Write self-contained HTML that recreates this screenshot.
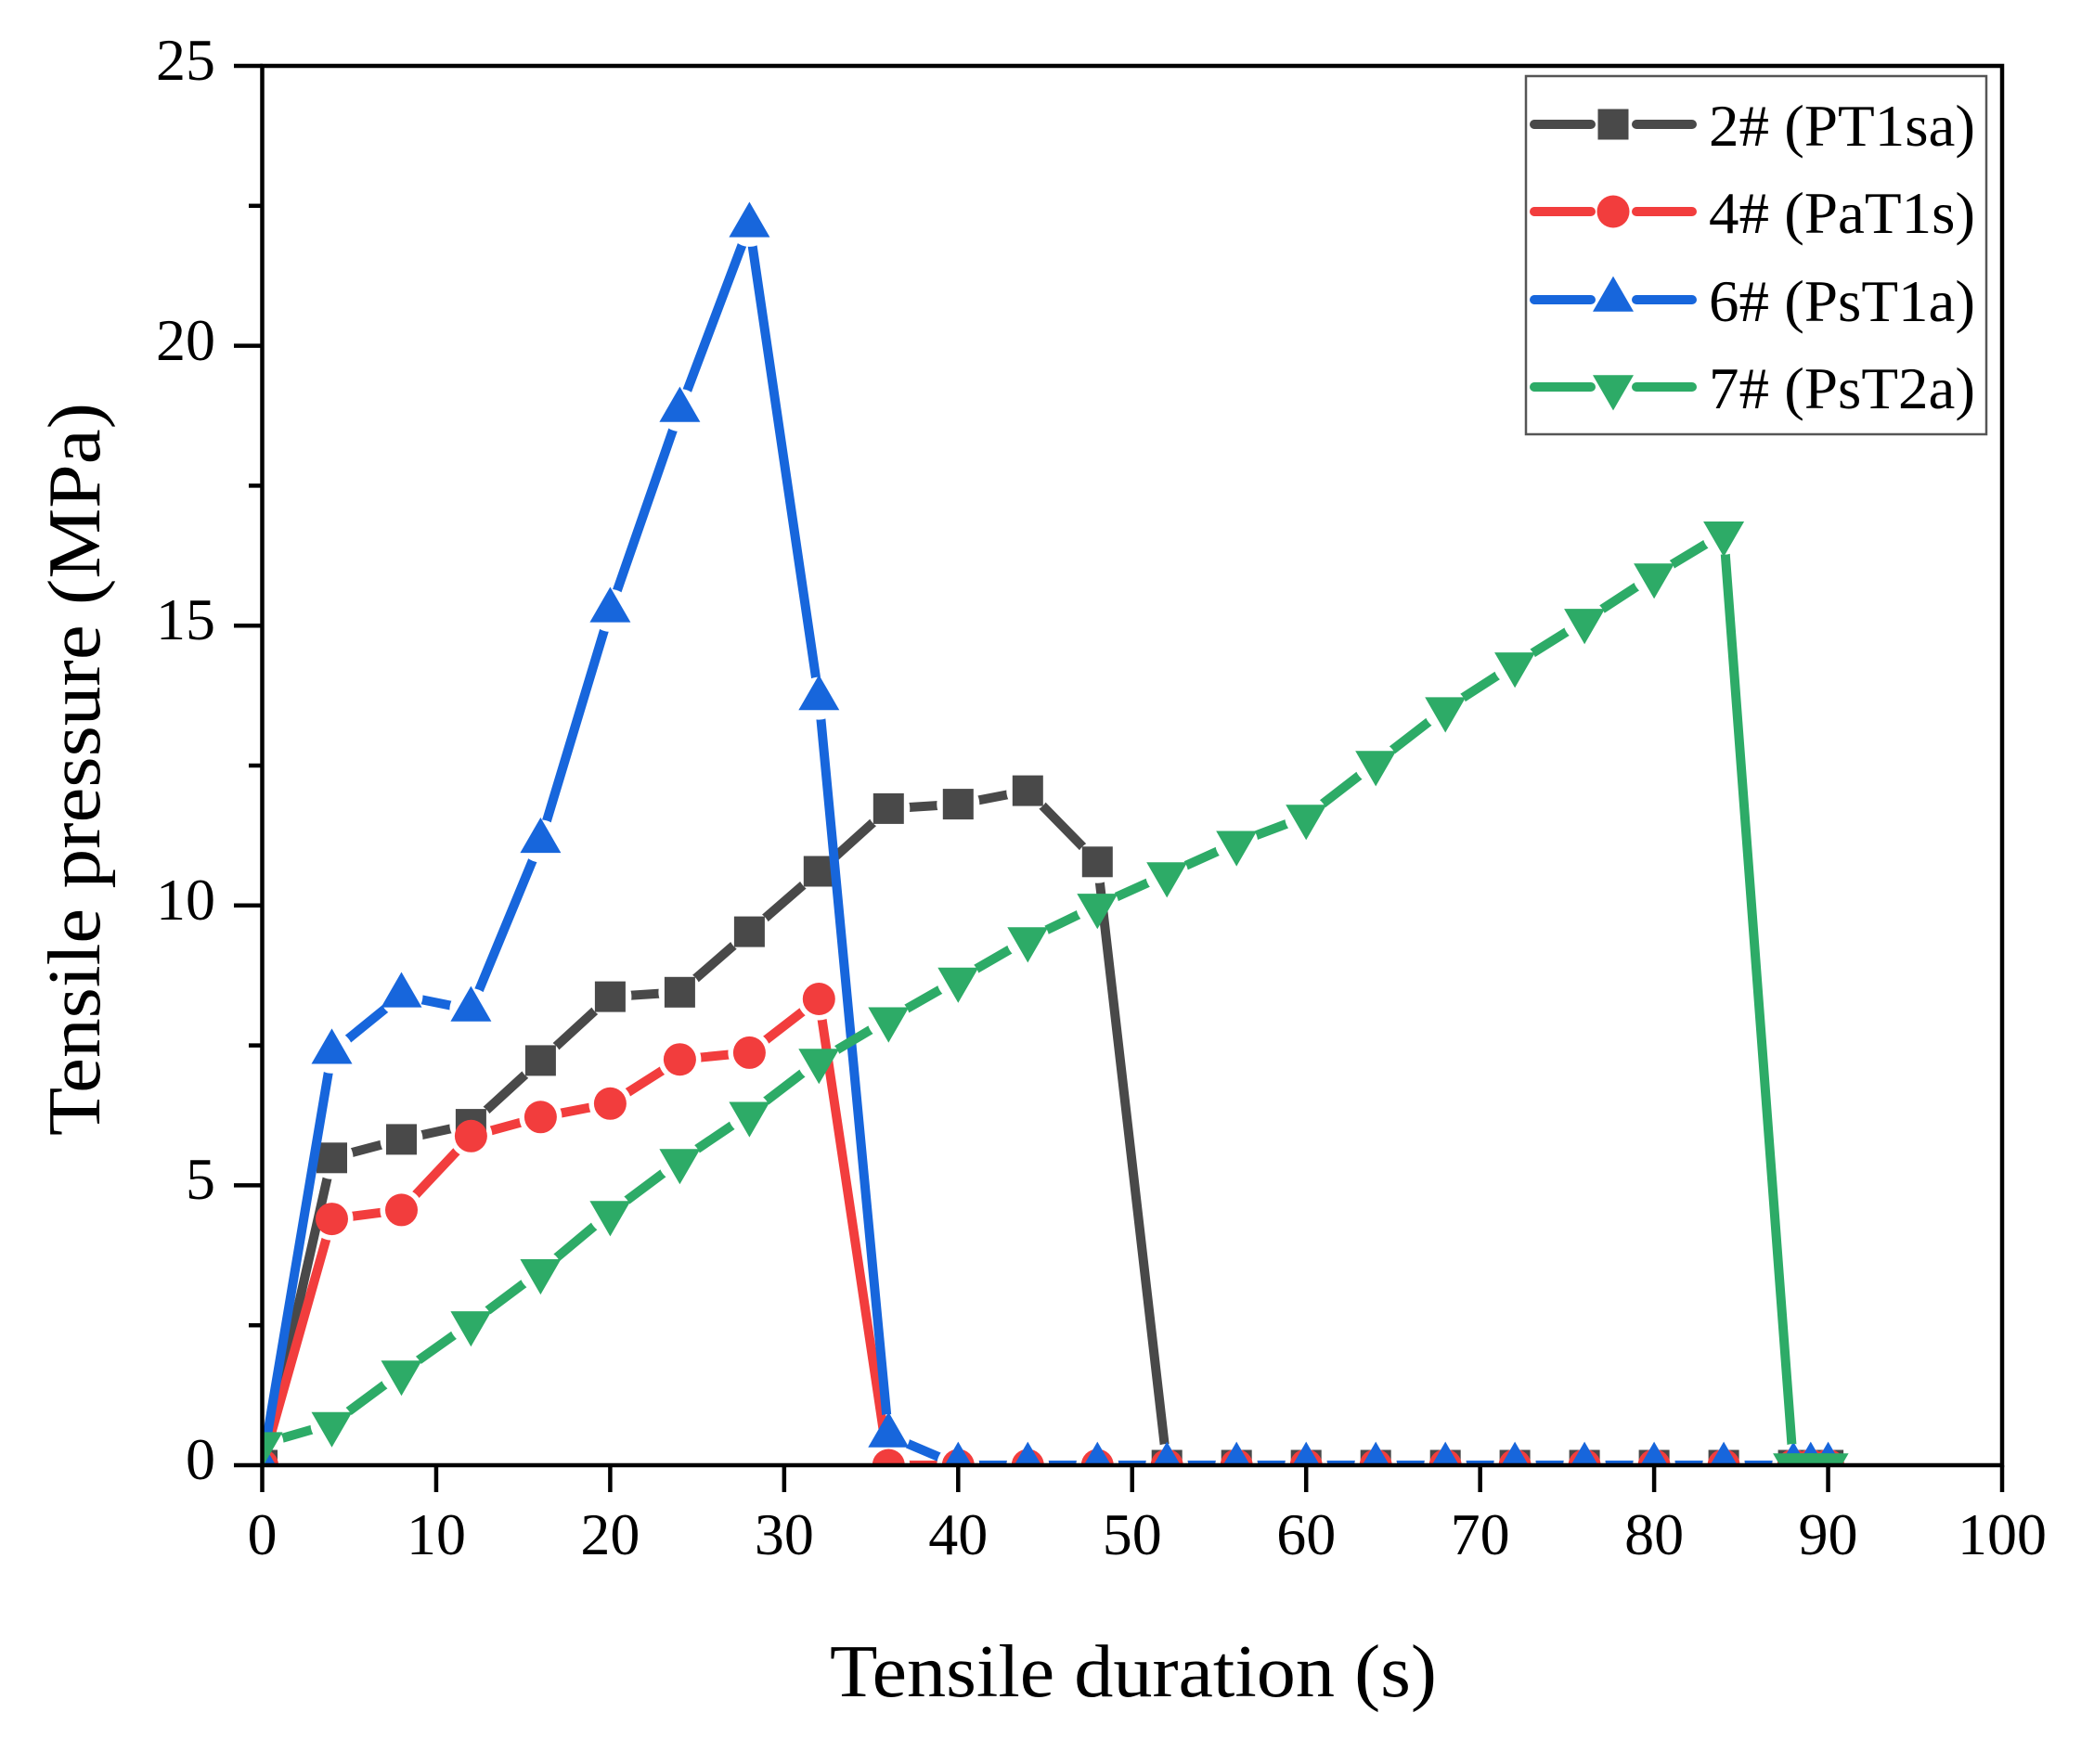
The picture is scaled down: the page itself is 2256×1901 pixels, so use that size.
<!DOCTYPE html>
<html>
<head>
<meta charset="utf-8">
<style>
html,body{margin:0;padding:0;background:#fff;}
svg{display:block;}
text{font-family:"Liberation Serif",serif;fill:#000;}
</style>
</head>
<body>
<svg width="2256" height="1901" viewBox="0 0 2256 1901" xmlns="http://www.w3.org/2000/svg">
<defs>
  <clipPath id="plot"><rect x="282.5" y="71" width="1874.5" height="1508"/></clipPath>
  <circle id="h" r="23" fill="#000"/>
  <rect id="sq" x="-16.5" y="-16.5" width="33" height="33"/>
  <circle id="ci" r="17.5"/>
  <polygon id="tu" points="0,-25.4 22,12.7 -22,12.7"/>
  <polygon id="td" points="0,25.4 22,-12.7 -22,-12.7"/>
  <mask id="mg" maskUnits="userSpaceOnUse" x="0" y="0" width="2256" height="1901">
    <rect x="0" y="0" width="2256" height="1901" fill="#fff"/>
    <use href="#h" x="282.5" y="1579"/><use href="#h" x="357.5" y="1247.8"/><use href="#h" x="432.5" y="1227.9"/><use href="#h" x="507.4" y="1211.6"/><use href="#h" x="582.4" y="1142.9"/><use href="#h" x="657.4" y="1074.1"/><use href="#h" x="732.4" y="1069.3"/><use href="#h" x="807.4" y="1004.1"/><use href="#h" x="882.3" y="939"/><use href="#h" x="957.3" y="871.4"/><use href="#h" x="1032.3" y="866.6"/><use href="#h" x="1107.3" y="852.1"/><use href="#h" x="1182.3" y="928.8"/><use href="#h" x="1257.2" y="1579"/><use href="#h" x="1332.2" y="1579"/><use href="#h" x="1407.2" y="1579"/><use href="#h" x="1482.2" y="1579"/><use href="#h" x="1557.2" y="1579"/><use href="#h" x="1632.1" y="1579"/><use href="#h" x="1707.1" y="1579"/><use href="#h" x="1782.1" y="1579"/><use href="#h" x="1857.1" y="1579"/><use href="#h" x="1932.1" y="1579"/><use href="#h" x="1950.8" y="1579"/><use href="#h" x="1969.6" y="1579"/>
  </mask>
  <mask id="mr" maskUnits="userSpaceOnUse" x="0" y="0" width="2256" height="1901">
    <rect x="0" y="0" width="2256" height="1901" fill="#fff"/>
    <use href="#h" x="282.5" y="1579"/><use href="#h" x="357.5" y="1313.6"/><use href="#h" x="432.5" y="1303.9"/><use href="#h" x="507.4" y="1224.3"/><use href="#h" x="582.4" y="1203.8"/><use href="#h" x="657.4" y="1189.3"/><use href="#h" x="732.4" y="1141.7"/><use href="#h" x="807.4" y="1134.4"/><use href="#h" x="882.3" y="1076.5"/><use href="#h" x="957.3" y="1579"/><use href="#h" x="1032.3" y="1579"/><use href="#h" x="1107.3" y="1579"/><use href="#h" x="1182.3" y="1579"/><use href="#h" x="1257.2" y="1579"/><use href="#h" x="1332.2" y="1579"/><use href="#h" x="1407.2" y="1579"/><use href="#h" x="1482.2" y="1579"/><use href="#h" x="1557.2" y="1579"/><use href="#h" x="1632.1" y="1579"/><use href="#h" x="1707.1" y="1579"/><use href="#h" x="1782.1" y="1579"/><use href="#h" x="1857.1" y="1579"/><use href="#h" x="1932.1" y="1579"/><use href="#h" x="1950.8" y="1579"/><use href="#h" x="1969.6" y="1579"/>
  </mask>
  <mask id="mb" maskUnits="userSpaceOnUse" x="0" y="0" width="2256" height="1901">
    <rect x="0" y="0" width="2256" height="1901" fill="#fff"/>
    <use href="#h" x="282.5" y="1579"/><use href="#h" x="357.5" y="1133.8"/><use href="#h" x="432.5" y="1072.9"/><use href="#h" x="507.4" y="1088"/><use href="#h" x="582.4" y="906.4"/><use href="#h" x="657.4" y="657.9"/><use href="#h" x="732.4" y="442"/><use href="#h" x="807.4" y="242.9"/><use href="#h" x="882.3" y="752.6"/><use href="#h" x="957.3" y="1547"/><use href="#h" x="1032.3" y="1579"/><use href="#h" x="1107.3" y="1579"/><use href="#h" x="1182.3" y="1579"/><use href="#h" x="1257.2" y="1579"/><use href="#h" x="1332.2" y="1579"/><use href="#h" x="1407.2" y="1579"/><use href="#h" x="1482.2" y="1579"/><use href="#h" x="1557.2" y="1579"/><use href="#h" x="1632.1" y="1579"/><use href="#h" x="1707.1" y="1579"/><use href="#h" x="1782.1" y="1579"/><use href="#h" x="1857.1" y="1579"/><use href="#h" x="1932.1" y="1579"/><use href="#h" x="1950.8" y="1579"/><use href="#h" x="1969.6" y="1579"/>
  </mask>
  <mask id="mgr" maskUnits="userSpaceOnUse" x="0" y="0" width="2256" height="1901">
    <rect x="0" y="0" width="2256" height="1901" fill="#fff"/>
    <use href="#h" x="282.5" y="1556.1"/><use href="#h" x="357.5" y="1534.4"/><use href="#h" x="432.5" y="1478.9"/><use href="#h" x="507.4" y="1425.8"/><use href="#h" x="582.4" y="1369.7"/><use href="#h" x="657.4" y="1307"/><use href="#h" x="732.4" y="1250.9"/><use href="#h" x="807.4" y="1200.2"/><use href="#h" x="882.3" y="1142.9"/><use href="#h" x="957.3" y="1098.2"/><use href="#h" x="1032.3" y="1055.4"/><use href="#h" x="1107.3" y="1012"/><use href="#h" x="1182.3" y="975.8"/><use href="#h" x="1257.2" y="942"/><use href="#h" x="1332.2" y="908.2"/><use href="#h" x="1407.2" y="879.9"/><use href="#h" x="1482.2" y="822"/><use href="#h" x="1557.2" y="764.1"/><use href="#h" x="1632.1" y="715.8"/><use href="#h" x="1707.1" y="668.8"/><use href="#h" x="1782.1" y="619.9"/><use href="#h" x="1857.1" y="574.7"/><use href="#h" x="1932.1" y="1579"/><use href="#h" x="1950.8" y="1579"/><use href="#h" x="1969.6" y="1579"/>
  </mask>
</defs>

<rect x="0" y="0" width="2256" height="1901" fill="#fff"/>

<g clip-path="url(#plot)">
  <!-- Gray 2# -->
  <g mask="url(#mg)">
    <polyline fill="none" stroke="#494949" stroke-width="10" stroke-linejoin="round" stroke-linecap="round"
      points="282.5,1579 357.5,1247.8 432.5,1227.9 507.4,1211.6 582.4,1142.9 657.4,1074.1 732.4,1069.3 807.4,1004.1 882.3,939 957.3,871.4 1032.3,866.6 1107.3,852.1 1182.3,928.8 1257.2,1579 1332.2,1579 1407.2,1579 1482.2,1579 1557.2,1579 1632.1,1579 1707.1,1579 1782.1,1579 1857.1,1579 1932.1,1579 1950.8,1579 1969.6,1579"/>
  </g>
  <g fill="#494949">
    <use href="#sq" x="282.5" y="1579"/><use href="#sq" x="357.5" y="1247.8"/><use href="#sq" x="432.5" y="1227.9"/><use href="#sq" x="507.4" y="1211.6"/><use href="#sq" x="582.4" y="1142.9"/><use href="#sq" x="657.4" y="1074.1"/><use href="#sq" x="732.4" y="1069.3"/><use href="#sq" x="807.4" y="1004.1"/><use href="#sq" x="882.3" y="939"/><use href="#sq" x="957.3" y="871.4"/><use href="#sq" x="1032.3" y="866.6"/><use href="#sq" x="1107.3" y="852.1"/><use href="#sq" x="1182.3" y="928.8"/><use href="#sq" x="1257.2" y="1579"/><use href="#sq" x="1332.2" y="1579"/><use href="#sq" x="1407.2" y="1579"/><use href="#sq" x="1482.2" y="1579"/><use href="#sq" x="1557.2" y="1579"/><use href="#sq" x="1632.1" y="1579"/><use href="#sq" x="1707.1" y="1579"/><use href="#sq" x="1782.1" y="1579"/><use href="#sq" x="1857.1" y="1579"/><use href="#sq" x="1932.1" y="1579"/><use href="#sq" x="1950.8" y="1579"/><use href="#sq" x="1969.6" y="1579"/>
  </g>

  <!-- Red 4# -->
  <g mask="url(#mr)">
    <polyline fill="none" stroke="#f23d3d" stroke-width="10" stroke-linejoin="round" stroke-linecap="round"
      points="282.5,1579 357.5,1313.6 432.5,1303.9 507.4,1224.3 582.4,1203.8 657.4,1189.3 732.4,1141.7 807.4,1134.4 882.3,1076.5 957.3,1579 1032.3,1579 1107.3,1579 1182.3,1579 1257.2,1579 1332.2,1579 1407.2,1579 1482.2,1579 1557.2,1579 1632.1,1579 1707.1,1579 1782.1,1579 1857.1,1579 1932.1,1579 1950.8,1579 1969.6,1579"/>
  </g>
  <g fill="#f23d3d">
    <use href="#ci" x="282.5" y="1579"/><use href="#ci" x="357.5" y="1313.6"/><use href="#ci" x="432.5" y="1303.9"/><use href="#ci" x="507.4" y="1224.3"/><use href="#ci" x="582.4" y="1203.8"/><use href="#ci" x="657.4" y="1189.3"/><use href="#ci" x="732.4" y="1141.7"/><use href="#ci" x="807.4" y="1134.4"/><use href="#ci" x="882.3" y="1076.5"/><use href="#ci" x="957.3" y="1579"/><use href="#ci" x="1032.3" y="1579"/><use href="#ci" x="1107.3" y="1579"/><use href="#ci" x="1182.3" y="1579"/><use href="#ci" x="1257.2" y="1579"/><use href="#ci" x="1332.2" y="1579"/><use href="#ci" x="1407.2" y="1579"/><use href="#ci" x="1482.2" y="1579"/><use href="#ci" x="1557.2" y="1579"/><use href="#ci" x="1632.1" y="1579"/><use href="#ci" x="1707.1" y="1579"/><use href="#ci" x="1782.1" y="1579"/><use href="#ci" x="1857.1" y="1579"/><use href="#ci" x="1932.1" y="1579"/><use href="#ci" x="1950.8" y="1579"/><use href="#ci" x="1969.6" y="1579"/>
  </g>

  <!-- Blue 6# -->
  <g mask="url(#mb)">
    <polyline fill="none" stroke="#1766dc" stroke-width="10" stroke-linejoin="round" stroke-linecap="round"
      points="282.5,1579 357.5,1133.8 432.5,1072.9 507.4,1088 582.4,906.4 657.4,657.9 732.4,442 807.4,242.9 882.3,752.6 957.3,1547 1032.3,1579 1107.3,1579 1182.3,1579 1257.2,1579 1332.2,1579 1407.2,1579 1482.2,1579 1557.2,1579 1632.1,1579 1707.1,1579 1782.1,1579 1857.1,1579 1932.1,1579 1950.8,1579 1969.6,1579"/>
  </g>
  <g fill="#1766dc">
    <use href="#tu" x="282.5" y="1579"/><use href="#tu" x="357.5" y="1133.8"/><use href="#tu" x="432.5" y="1072.9"/><use href="#tu" x="507.4" y="1088"/><use href="#tu" x="582.4" y="906.4"/><use href="#tu" x="657.4" y="657.9"/><use href="#tu" x="732.4" y="442"/><use href="#tu" x="807.4" y="242.9"/><use href="#tu" x="882.3" y="752.6"/><use href="#tu" x="957.3" y="1547"/><use href="#tu" x="1032.3" y="1579"/><use href="#tu" x="1107.3" y="1579"/><use href="#tu" x="1182.3" y="1579"/><use href="#tu" x="1257.2" y="1579"/><use href="#tu" x="1332.2" y="1579"/><use href="#tu" x="1407.2" y="1579"/><use href="#tu" x="1482.2" y="1579"/><use href="#tu" x="1557.2" y="1579"/><use href="#tu" x="1632.1" y="1579"/><use href="#tu" x="1707.1" y="1579"/><use href="#tu" x="1782.1" y="1579"/><use href="#tu" x="1857.1" y="1579"/><use href="#tu" x="1932.1" y="1579"/><use href="#tu" x="1950.8" y="1579"/><use href="#tu" x="1969.6" y="1579"/>
  </g>

  <!-- Green 7# -->
  <g mask="url(#mgr)">
    <polyline fill="none" stroke="#2dab67" stroke-width="10" stroke-linejoin="round" stroke-linecap="round"
      points="282.5,1556.1 357.5,1534.4 432.5,1478.9 507.4,1425.8 582.4,1369.7 657.4,1307 732.4,1250.9 807.4,1200.2 882.3,1142.9 957.3,1098.2 1032.3,1055.4 1107.3,1012 1182.3,975.8 1257.2,942 1332.2,908.2 1407.2,879.9 1482.2,822 1557.2,764.1 1632.1,715.8 1707.1,668.8 1782.1,619.9 1857.1,574.7 1932.1,1579 1950.8,1579 1969.6,1579"/>
  </g>
  <g fill="#2dab67">
    <use href="#td" x="282.5" y="1556.1"/><use href="#td" x="357.5" y="1534.4"/><use href="#td" x="432.5" y="1478.9"/><use href="#td" x="507.4" y="1425.8"/><use href="#td" x="582.4" y="1369.7"/><use href="#td" x="657.4" y="1307"/><use href="#td" x="732.4" y="1250.9"/><use href="#td" x="807.4" y="1200.2"/><use href="#td" x="882.3" y="1142.9"/><use href="#td" x="957.3" y="1098.2"/><use href="#td" x="1032.3" y="1055.4"/><use href="#td" x="1107.3" y="1012"/><use href="#td" x="1182.3" y="975.8"/><use href="#td" x="1257.2" y="942"/><use href="#td" x="1332.2" y="908.2"/><use href="#td" x="1407.2" y="879.9"/><use href="#td" x="1482.2" y="822"/><use href="#td" x="1557.2" y="764.1"/><use href="#td" x="1632.1" y="715.8"/><use href="#td" x="1707.1" y="668.8"/><use href="#td" x="1782.1" y="619.9"/><use href="#td" x="1857.1" y="574.7"/><use href="#td" x="1932.1" y="1579"/><use href="#td" x="1950.8" y="1579"/><use href="#td" x="1969.6" y="1579"/>
  </g>
</g>

<!-- Axes frame -->
<rect x="282.5" y="71" width="1874.5" height="1508" fill="none" stroke="#000" stroke-width="4.5"/>

<!-- Y ticks -->
<g stroke="#000" stroke-width="4.5">
  <line x1="252" y1="1579" x2="283" y2="1579"/>
  <line x1="252" y1="1277.4" x2="283" y2="1277.4"/>
  <line x1="252" y1="975.8" x2="283" y2="975.8"/>
  <line x1="252" y1="674.2" x2="283" y2="674.2"/>
  <line x1="252" y1="372.6" x2="283" y2="372.6"/>
  <line x1="252" y1="71" x2="283" y2="71"/>
  <line x1="268" y1="1428.2" x2="283" y2="1428.2"/>
  <line x1="268" y1="1126.6" x2="283" y2="1126.6"/>
  <line x1="268" y1="825" x2="283" y2="825"/>
  <line x1="268" y1="523.4" x2="283" y2="523.4"/>
  <line x1="268" y1="221.8" x2="283" y2="221.8"/>
</g>
<!-- X ticks -->
<g stroke="#000" stroke-width="4.5">
  <line x1="282.5" y1="1579" x2="282.5" y2="1608"/>
  <line x1="469.95" y1="1579" x2="469.95" y2="1608"/>
  <line x1="657.4" y1="1579" x2="657.4" y2="1608"/>
  <line x1="844.85" y1="1579" x2="844.85" y2="1608"/>
  <line x1="1032.3" y1="1579" x2="1032.3" y2="1608"/>
  <line x1="1219.75" y1="1579" x2="1219.75" y2="1608"/>
  <line x1="1407.2" y1="1579" x2="1407.2" y2="1608"/>
  <line x1="1594.65" y1="1579" x2="1594.65" y2="1608"/>
  <line x1="1782.1" y1="1579" x2="1782.1" y2="1608"/>
  <line x1="1969.55" y1="1579" x2="1969.55" y2="1608"/>
  <line x1="2157" y1="1579" x2="2157" y2="1608"/>
</g>

<!-- Y tick labels -->
<g font-size="64" text-anchor="end">
  <text x="232" y="1594">0</text>
  <text x="232" y="1292">5</text>
  <text x="232" y="991">10</text>
  <text x="232" y="689">15</text>
  <text x="232" y="388">20</text>
  <text x="232" y="86">25</text>
</g>
<!-- X tick labels -->
<g font-size="64" text-anchor="middle">
  <text x="282.5" y="1675">0</text>
  <text x="469.95" y="1675">10</text>
  <text x="657.4" y="1675">20</text>
  <text x="844.85" y="1675">30</text>
  <text x="1032.3" y="1675">40</text>
  <text x="1219.75" y="1675">50</text>
  <text x="1407.2" y="1675">60</text>
  <text x="1594.65" y="1675">70</text>
  <text x="1782.1" y="1675">80</text>
  <text x="1969.55" y="1675">90</text>
  <text x="2157" y="1675">100</text>
</g>

<!-- Axis titles -->
<text x="1221" y="1828" font-size="80" text-anchor="middle" textLength="654" lengthAdjust="spacingAndGlyphs">Tensile duration (s)</text>
<text transform="translate(107,829) rotate(-90)" font-size="80" text-anchor="middle" textLength="790" lengthAdjust="spacingAndGlyphs">Tensile pressure (MPa)</text>

<!-- Legend -->
<rect x="1644" y="82" width="496" height="386" fill="#fff" stroke="#555" stroke-width="2.5"/>
<g stroke-width="10" stroke-linecap="round">
  <line x1="1653" y1="134" x2="1714" y2="134" stroke="#494949"/>
  <line x1="1763" y1="134" x2="1823" y2="134" stroke="#494949"/>
  <line x1="1653" y1="228" x2="1714" y2="228" stroke="#f23d3d"/>
  <line x1="1763" y1="228" x2="1823" y2="228" stroke="#f23d3d"/>
  <line x1="1653" y1="323" x2="1714" y2="323" stroke="#1766dc"/>
  <line x1="1763" y1="323" x2="1823" y2="323" stroke="#1766dc"/>
  <line x1="1653" y1="417" x2="1714" y2="417" stroke="#2dab67"/>
  <line x1="1763" y1="417" x2="1823" y2="417" stroke="#2dab67"/>
</g>
<use href="#sq" x="1738" y="134" fill="#494949"/>
<use href="#ci" x="1738" y="228" fill="#f23d3d"/>
<use href="#tu" x="1738" y="323" fill="#1766dc"/>
<use href="#td" x="1738" y="417" fill="#2dab67"/>
<g font-size="64">
  <text x="1841" y="157" textLength="287" lengthAdjust="spacingAndGlyphs">2# (PT1sa)</text>
  <text x="1841" y="251" textLength="287" lengthAdjust="spacingAndGlyphs">4# (PaT1s)</text>
  <text x="1841" y="346" textLength="287" lengthAdjust="spacingAndGlyphs">6# (PsT1a)</text>
  <text x="1841" y="440" textLength="287" lengthAdjust="spacingAndGlyphs">7# (PsT2a)</text>
</g>
</svg>
</body>
</html>
